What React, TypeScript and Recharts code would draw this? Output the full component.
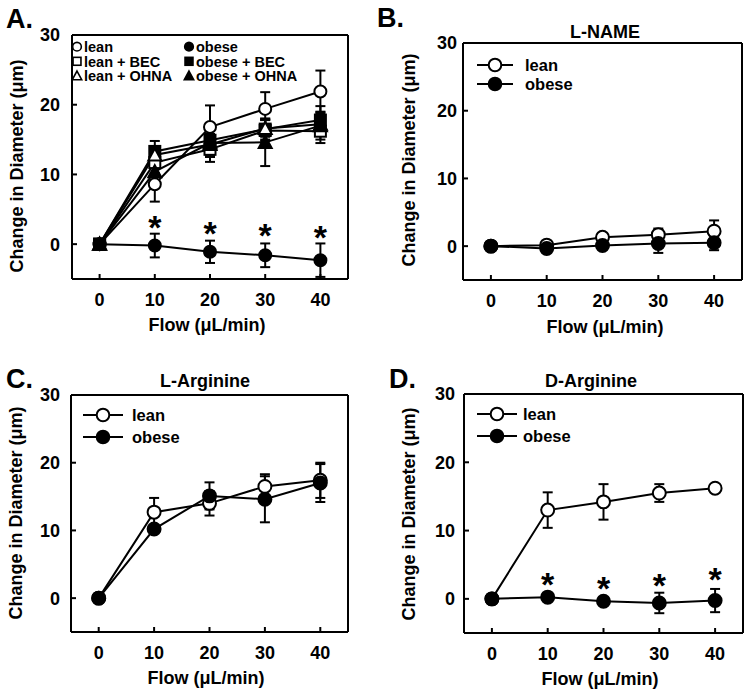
import React from 'react';
import { ComposedChart, Line, XAxis, YAxis, ErrorBar, Scatter, Legend, Label } from 'recharts';

const FONT = '"Liberation Sans", Arial, Helvetica, sans-serif';

// ---------- data ----------
const flow = [0, 10, 20, 30, 40];
const xTicks = [0, 10, 20, 30, 40];
const yTicks = [0, 10, 20, 30];
const starFlow = [10, 20, 30, 40];

// Panel A
const aLean = [0, 8.6, 16.8, 19.4, 21.9];
const aLeanErr = [0, 2.5, 3.1, 2.4, 3.0];
const aLeanBEC = [0, 11.7, 13.6, 16.3, 16.2];
const aLeanBECErr = [0, 1.5, 1.8, 1.5, 1.7];
const aLeanOHNA = [0, 12.8, 14.3, 16.6, 17.2];
const aLeanOHNAErr = [0, 1.2, 1.5, 1.2, 1.5];
const aObese = [0, -0.2, -1.1, -1.6, -2.3];
const aObeseErr = [0, 1.7, 1.6, 1.7, 2.4];
const aObeseBEC = [0, 13.3, 14.9, 16.5, 17.8];
const aObeseBECErr = [0, 1.5, 2.0, 1.5, 2.0];
const aObeseOHNA = [0, 10.4, 14.5, 14.6, 17.0];
const aObeseOHNAErr = [0, 1.5, 2.0, 3.4, 2.0];
const aStars = [3.2, 2.35, 2.0, 1.7];

// Panel B (L-NAME)
const bLean = [0, 0.15, 1.3, 1.7, 2.2];
const bLeanErr = [0, 0.3, 0.3, 0.9, 1.6];
const bObese = [0, -0.35, 0.1, 0.4, 0.5];
const bObeseErr = [0, 0.3, 0.3, 1.4, 1.1];

// Panel C (L-Arginine)
const cLean = [0, 12.7, 14.0, 16.5, 17.4];
const cLeanErr = [0, 2.1, 1.8, 1.8, 2.6];
const cObese = [0, 10.2, 15.1, 14.6, 17.0];
const cObeseErr = [0, 0.5, 2.0, 3.4, 2.8];

// Panel D (D-Arginine)
const dLean = [0, 13.0, 14.2, 15.5, 16.2];
const dLeanErr = [0, 2.6, 2.6, 1.3, 0.3];
const dObese = [0, 0.25, -0.35, -0.6, -0.25];
const dObeseErr = [0, 0.3, 0.3, 1.5, 1.7];
const dStars = [2.95, 2.35, 2.7, 3.7];

// ---------- drawing helpers ----------
type Shape = 'circle' | 'square' | 'triangle';
interface Series {
  key: string;
  name: string;
  shape: Shape;
  filled: boolean;
  values: number[];
  errs: number[];
}

function Marker({ cx, cy, shape, filled, scale = 1, sw = 2 }: any) {
  const fill = filled ? '#000' : '#fff';
  if (cx == null || cy == null) return null;
  if (shape === 'circle') {
    return <circle cx={cx} cy={cy} r={6 * scale} fill={fill} stroke="#000" strokeWidth={sw} />;
  }
  if (shape === 'square') {
    const h = 5.5 * scale;
    return <rect x={cx - h} y={cy - h} width={2 * h} height={2 * h} fill={fill} stroke="#000" strokeWidth={sw} />;
  }
  const t = 6.5 * scale;
  return (
    <polygon
      points={`${cx},${cy - t} ${cx + t},${cy + t * 0.85} ${cx - t},${cy + t * 0.85}`}
      fill={fill}
      stroke="#000"
      strokeWidth={sw}
      strokeLinejoin="miter"
    />
  );
}

const textStyle = (size: number): any => ({ fontFamily: FONT, fontWeight: 700, fontSize: size, fill: '#000' });
const lineStyle = { stroke: '#000', strokeWidth: 2 };

interface PanelCfg {
  left: number;
  top: number;
  width: number;
  height: number;
  L: number;
  R: number;
  T: number;
  B: number;
  series: Series[];
  stars?: number[];
  letter: string;
  letterPos: [number, number];
  title?: string;
  titlePos?: [number, number];
  yTitlePos: [number, number];
  xTitlePos: [number, number];
  yTickMargin: number;
  markerScale: number;
  legend: any;
}

function Panel({ p }: { p: PanelCfg }) {
  const data = flow.map((x, i) => {
    const row: any = { x };
    p.series.forEach((s) => {
      row[s.key] = s.values[i];
      row[s.key + 'Err'] = s.errs[i];
    });
    return row;
  });
  const starData = (p.stars || []).map((v, i) => ({ x: starFlow[i], star: v }));
  const margin = { top: p.T - 1, right: p.width - p.R - 1, bottom: p.height - p.B - 50, left: 0 };
  return (
    <div style={{ position: 'absolute', left: p.left, top: p.top, width: p.width, height: p.height }}>
      <ComposedChart width={p.width} height={p.height} data={data} margin={margin}>
        <XAxis
          xAxisId="top"
          orientation="top"
          type="number"
          domain={[-5, 45]}
          ticks={xTicks}
          allowDataOverflow
          height={1}
          tick={false}
          tickLine={false}
          axisLine={lineStyle}
        />
        <XAxis
          dataKey="x"
          type="number"
          domain={[-5, 45]}
          ticks={xTicks}
          interval={0}
          allowDataOverflow
          height={50}
          tickSize={-5}
          tickMargin={19}
          tick={textStyle(18)}
          tickLine={lineStyle}
          axisLine={lineStyle}
        >
          <Label
            content={() => (
              <text x={p.xTitlePos[0]} y={p.xTitlePos[1]} textAnchor="middle" style={textStyle(18)}>
                Flow (μL/min)
              </text>
            )}
          />
        </XAxis>
        <YAxis
          yAxisId="l"
          type="number"
          domain={[-5, 30]}
          ticks={yTicks}
          interval={0}
          allowDataOverflow
          width={p.L}
          tickSize={-5}
          tickMargin={p.yTickMargin}
          tick={textStyle(18)}
          tickLine={lineStyle}
          axisLine={lineStyle}
        >
          <Label
            content={() => (
              <text
                x={p.yTitlePos[0]}
                y={p.yTitlePos[1]}
                transform={`rotate(-90 ${p.yTitlePos[0]} ${p.yTitlePos[1]})`}
                textAnchor="middle"
                dominantBaseline="central"
                style={textStyle(18)}
              >
                Change in Diameter (μm)
              </text>
            )}
          />
        </YAxis>
        <YAxis
          yAxisId="r"
          orientation="right"
          type="number"
          domain={[-5, 30]}
          ticks={yTicks}
          interval={0}
          allowDataOverflow
          width={1}
          tick={false}
          tickSize={-5}
          tickLine={lineStyle}
          axisLine={lineStyle}
        />
        {p.series.map((s) => (
          <Line
            key={s.key}
            yAxisId="l"
            dataKey={s.key}
            name={s.name}
            stroke="#000"
            strokeWidth={2}
            isAnimationActive={false}
            activeDot={false}
            dot={(d: any) => (
              <Marker key={`${s.key}-${d.index}`} cx={d.cx} cy={d.cy} shape={s.shape} filled={s.filled} scale={p.markerScale} />
            )}
          >
            <ErrorBar dataKey={s.key + 'Err'} width={5} strokeWidth={2} stroke="#000" direction="y" isAnimationActive={false} />
          </Line>
        ))}
        {p.stars ? (
          <Scatter
            yAxisId="l"
            data={starData}
            dataKey="star"
            isAnimationActive={false}
            legendType="none"
            shape={(d: any) => (
              <text x={d.cx} y={d.cy + 17} textAnchor="middle" style={textStyle(34)}>
                *
              </text>
            )}
          />
        ) : null}
        <Legend
          layout="horizontal"
          verticalAlign="middle"
          align="center"
          wrapperStyle={p.legend.wrapper}
          content={() => p.legend.render()}
        />
      </ComposedChart>
      <svg
        width={p.width}
        height={p.height}
        style={{ position: 'absolute', left: 0, top: 0, pointerEvents: 'none' }}
      >
        <text x={p.letterPos[0]} y={p.letterPos[1]} style={textStyle(27)}>
          {p.letter}
        </text>
        {p.title ? (
          <text x={p.titlePos![0]} y={p.titlePos![1]} textAnchor="middle" style={textStyle(18)}>
            {p.title}
          </text>
        ) : null}
      </svg>
    </div>
  );
}

// ---------- series definitions ----------
const seriesA: Series[] = [
  { key: 'lean', name: 'lean', shape: 'circle', filled: false, values: aLean, errs: aLeanErr },
  { key: 'leanBEC', name: 'lean + BEC', shape: 'square', filled: false, values: aLeanBEC, errs: aLeanBECErr },
  { key: 'obeseBEC', name: 'obese + BEC', shape: 'square', filled: true, values: aObeseBEC, errs: aObeseBECErr },
  { key: 'leanOHNA', name: 'lean + OHNA', shape: 'triangle', filled: false, values: aLeanOHNA, errs: aLeanOHNAErr },
  { key: 'obeseOHNA', name: 'obese + OHNA', shape: 'triangle', filled: true, values: aObeseOHNA, errs: aObeseOHNAErr },
  { key: 'obese', name: 'obese', shape: 'circle', filled: true, values: aObese, errs: aObeseErr },
];

const two = (lean: number[], leanErr: number[], obese: number[], obeseErr: number[]): Series[] => [
  { key: 'lean', name: 'lean', shape: 'circle', filled: false, values: lean, errs: leanErr },
  { key: 'obese', name: 'obese', shape: 'circle', filled: true, values: obese, errs: obeseErr },
];

const legendAGrid = [
  ['lean', 'obese'],
  ['lean + BEC', 'obese + BEC'],
  ['lean + OHNA', 'obese + OHNA'],
];

function legendA() {
  const rows = [8.7, 23.3, 37.7];
  const cols = [
    { m: 7, t: 14 },
    { m: 119, t: 126 },
  ];
  return (
    <svg width={260} height={46}>
      {legendAGrid.map((row, ri) =>
        row.map((name, ci) => {
          const s = seriesA.find((q) => q.name === name)!;
          return (
            <g key={name}>
              <Marker cx={cols[ci].m} cy={rows[ri]} shape={s.shape} filled={s.filled} scale={0.72} sw={1.6} />
              <text x={cols[ci].t} y={rows[ri] + 5.2} style={textStyle(14.5)}>
                {name}
              </text>
            </g>
          );
        })
      )}
    </svg>
  );
}

function legendTwo(x1: number, x2: number, cx: number, tx: number, rows: number[]) {
  return () => (
    <svg width={120} height={45}>
      {['lean', 'obese'].map((name, i) => (
        <g key={name}>
          <line x1={x1} x2={x2} y1={rows[i]} y2={rows[i]} stroke="#000" strokeWidth={2} />
          <Marker cx={cx} cy={rows[i]} shape="circle" filled={name === 'obese'} scale={1.05} />
          <text x={tx} y={rows[i] + 6} style={textStyle(16.5)}>
            {name}
          </text>
        </g>
      ))}
    </svg>
  );
}

const panels: PanelCfg[] = [
  {
    left: 0, top: 0, width: 375, height: 340,
    L: 72, R: 348, T: 35, B: 279,
    series: seriesA, stars: aStars,
    letter: 'A.', letterPos: [6, 28],
    yTitlePos: [17, 166], xTitlePos: [207, 331],
    yTickMargin: 17, markerScale: 1,
    legend: { wrapper: { left: 70, top: 38, width: 260, height: 46 }, render: legendA },
  },
  {
    left: 375, top: 0, width: 376, height: 340,
    L: 88, R: 367, T: 43, B: 280,
    series: two(bLean, bLeanErr, bObese, bObeseErr),
    letter: 'B.', letterPos: [2, 27], title: 'L-NAME', titlePos: [230, 38],
    yTitlePos: [34, 160], xTitlePos: [230, 333],
    yTickMargin: 11, markerScale: 1.08,
    legend: { wrapper: { left: 95, top: 55, width: 120, height: 45 }, render: legendTwo(7, 43, 25, 55, [10, 29]) },
  },
  {
    left: 0, top: 340, width: 375, height: 358,
    L: 71, R: 348, T: 55, B: 292,
    series: two(cLean, cLeanErr, cObese, cObeseErr),
    letter: 'C.', letterPos: [6, 48], title: 'L-Arginine', titlePos: [205, 47],
    yTitlePos: [16, 173], xTitlePos: [206, 344],
    yTickMargin: 16, markerScale: 1.08,
    legend: { wrapper: { left: 76, top: 65, width: 120, height: 45 }, render: legendTwo(7, 47, 27, 56, [10, 32]) },
  },
  {
    left: 375, top: 340, width: 376, height: 358,
    L: 89, R: 368, T: 54, B: 293,
    series: two(dLean, dLeanErr, dObese, dObeseErr), stars: dStars,
    letter: 'D.', letterPos: [14, 48], title: 'D-Arginine', titlePos: [216, 47],
    yTitlePos: [34, 174], xTitlePos: [225, 345],
    yTickMargin: 14, markerScale: 1.08,
    legend: { wrapper: { left: 95, top: 64, width: 120, height: 45 }, render: legendTwo(7, 47, 27, 53, [10, 32]) },
  },
];

export default function App() {
  return (
    <div style={{ position: 'absolute', left: 0, top: 0, width: 751, height: 698, background: '#fff', overflow: 'hidden' }}>
      {panels.map((p, i) => (
        <Panel key={i} p={p} />
      ))}
    </div>
  );
}
